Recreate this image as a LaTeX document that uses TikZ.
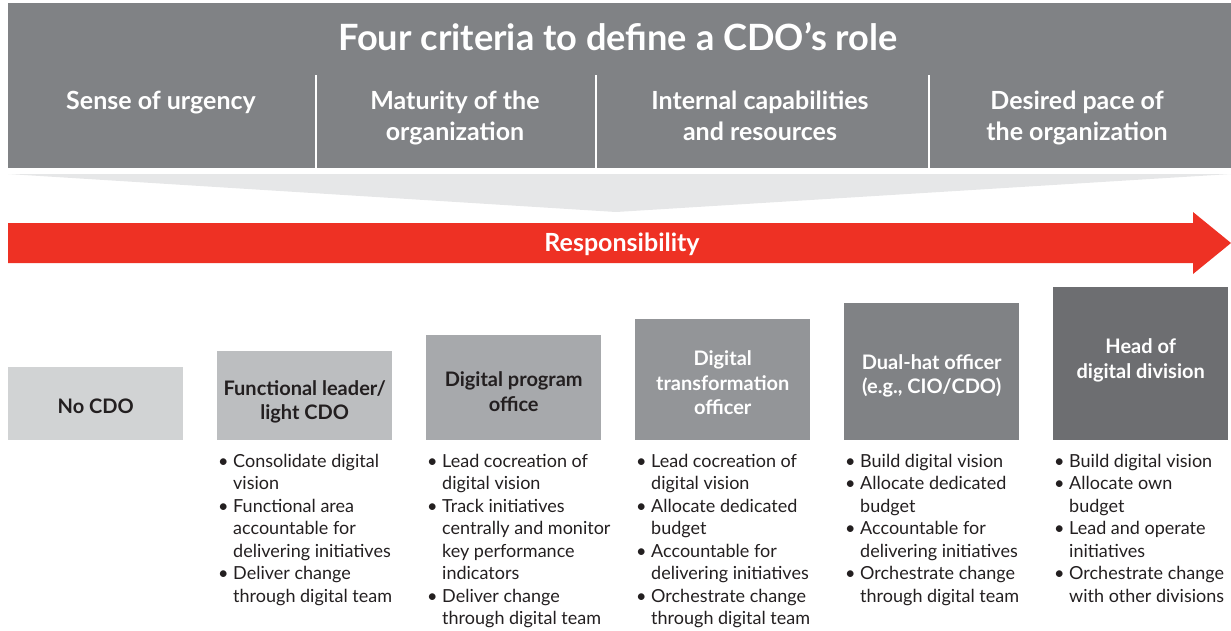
\documentclass[tikz,border=0pt]{standalone}
\usepackage{fontspec}
\setmainfont{Lato}
\definecolor{hdr}{HTML}{808285}
\definecolor{funnel}{HTML}{E6E7E8}
\definecolor{resp}{HTML}{EE3124}
\definecolor{ga}{HTML}{D1D3D4}
\definecolor{gb}{HTML}{BCBEC0}
\definecolor{gc}{HTML}{A7A9AC}
\definecolor{gd}{HTML}{939598}
\definecolor{ge}{HTML}{808285}
\definecolor{gf}{HTML}{6D6E71}
\definecolor{ink}{HTML}{231F20}
\newcommand\bl{\makebox[15pt][l]{\textbullet}}
\newcommand\ind{\hspace*{15pt}}
\tikzset{
  crit/.style={text=white, font=\fontsize{25}{31}\selectfont\bfseries, inner sep=0pt, anchor=base},
  rolebox/.style={draw=none, minimum width=175pt, inner sep=0pt, anchor=north west},
  rolelabel/.style={inner sep=0pt, align=center, font=\fontsize{20}{24.5}\selectfont\bfseries},
  bullets/.style={text=ink, inner sep=0pt, anchor=base west, font=\fontsize{18}{22.55}\selectfont},
  divider/.style={white, line width=1.6pt}
}
\begin{document}
\begin{tikzpicture}[x=1pt,y=-1pt]
\useasboundingbox (0,0) rectangle (1231,630);
% header
\fill[hdr] (8,3) rectangle (1231,168);
\node[text=white, font=\fontsize{36.2}{40}\selectfont\bfseries, inner sep=0pt, anchor=base] (title) at (618,50) {Four criteria to define a CDO’s role};
\draw[divider] (316,75) -- (316,168);
\draw[divider] (596,75) -- (596,168);
\draw[divider] (929,75) -- (929,168);
\node[crit] (c1) at (161,109) {Sense of urgency};
\node[crit] (c2) at (455,109) {\begin{tabular}[t]{@{}c@{}}Maturity of the\\organization\end{tabular}};
\node[crit] (c3) at (760,109) {\begin{tabular}[t]{@{}c@{}}Internal capabilities\\and resources\end{tabular}};
\node[crit] (c4) at (1077,109) {\begin{tabular}[t]{@{}c@{}}Desired pace of\\the organization\end{tabular}};
% funnel
\fill[funnel] (8,174) -- (1231,174) -- (616,212) -- cycle;
% arrow
\fill[resp] (8,223) -- (1193,223) -- (1193,212) -- (1231,243) -- (1193,274) -- (1193,263) -- (8,263) -- cycle;
\node[text=white, font=\fontsize{25}{30}\selectfont\bfseries, inner sep=0pt, anchor=base] (resp) at (622,251) {Responsibility};
% role boxes
\node[rolebox, fill=ga, minimum height=73pt] (b1) at (8,367) {};
\node[rolebox, fill=gb, minimum height=89pt] (b2) at (217,351) {};
\node[rolebox, fill=gc, minimum height=105pt] (b3) at (426,335) {};
\node[rolebox, fill=gd, minimum height=121pt] (b4) at (635,319) {};
\node[rolebox, fill=ge, minimum height=137pt] (b5) at (844,303) {};
\node[rolebox, fill=gf, minimum height=153pt] (b6) at (1053,287) {};
\node[rolelabel, text=ink] (t1) at ([yshift=-3pt]b1.center) {No CDO};
\node[rolelabel, text=ink] (t2) at ([yshift=-6pt]b2.center) {Functional leader/\\light CDO};
\node[rolelabel, text=ink] (t3) at ([yshift=-4pt]b3.center) {Digital program\\office};
\node[rolelabel, text=white] (t4) at ([yshift=-3pt]b4.center) {Digital\\transformation\\officer};
\node[rolelabel, text=white] (t5) at ([yshift=-4pt]b5.center) {Dual-hat officer\\(e.g., CIO/CDO)};
\node[rolelabel, text=white] (t6) at ([yshift=3.5pt]b6.center) {Head of\\digital division};
% bullet lists
\node[bullets] (l2) at (218,467) {\begin{tabular}[t]{@{}l@{}}
\bl Consolidate digital\\ \ind vision\\ \bl Functional area\\ \ind accountable for\\ \ind delivering initiatives\\ \bl Deliver change\\ \ind through digital team\end{tabular}};
\node[bullets] (l3) at (427,467) {\begin{tabular}[t]{@{}l@{}}
\bl Lead cocreation of\\ \ind digital vision\\ \bl Track initiatives\\ \ind centrally and monitor\\ \ind key performance\\ \ind indicators\\ \bl Deliver change\\ \ind through digital team\end{tabular}};
\node[bullets] (l4) at (636,467) {\begin{tabular}[t]{@{}l@{}}
\bl Lead cocreation of\\ \ind digital vision\\ \bl Allocate dedicated\\ \ind budget\\ \bl Accountable for\\ \ind delivering initiatives\\ \bl Orchestrate change\\ \ind through digital team\end{tabular}};
\node[bullets] (l5) at (845,467) {\begin{tabular}[t]{@{}l@{}}
\bl Build digital vision\\ \bl Allocate dedicated\\ \ind budget\\ \bl Accountable for\\ \ind delivering initiatives\\ \bl Orchestrate change\\ \ind through digital team\end{tabular}};
\node[bullets] (l6) at (1054,467) {\begin{tabular}[t]{@{}l@{}}
\bl Build digital vision\\ \bl Allocate own\\ \ind budget\\ \bl Lead and operate\\ \ind initiatives\\ \bl Orchestrate change\\ \ind with other divisions\end{tabular}};
\end{tikzpicture}
\end{document}
